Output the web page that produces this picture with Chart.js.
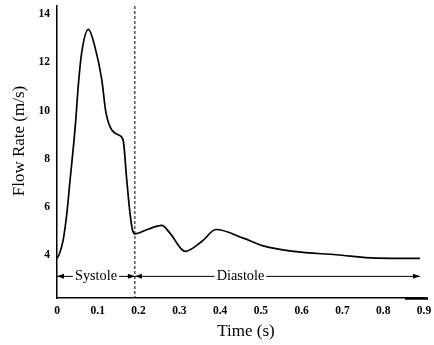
<!DOCTYPE html>
<html>
<head>
<meta charset="utf-8">
<script src="https://cdn.jsdelivr.net/npm/chart.js@4/dist/chart.umd.min.js"></script>
<style>
  html, body { margin: 0; padding: 0; background: #fff; }
  #wrap { width: 434px; height: 345px; position: relative; }
</style>
</head>
<body>
<div id="wrap"><canvas id="flow"></canvas></div>
<script>
// values
const timeS = [0, 0.005, 0.015, 0.024, 0.032, 0.042, 0.046, 0.052, 0.0605, 0.077,
  0.093, 0.11, 0.119, 0.13, 0.15, 0.162, 0.171, 0.179, 0.185, 0.191,
  0.22, 0.257, 0.277, 0.314, 0.355, 0.39, 0.457, 0.506, 0.58, 0.685,
  0.784, 0.89];
const flowRate = [3.85, 4.0, 4.6, 5.7, 7.1, 8.8, 9.6, 11.0, 12.4, 13.38,
  12.65, 11.27, 10.02, 9.33, 8.99, 8.78, 7.12, 5.73, 5.04, 4.87,
  5.04, 5.22, 4.9, 4.14, 4.55, 5.05, 4.69, 4.37, 4.14, 4.0,
  3.86, 3.85];

const xTicks = [0, 0.1, 0.2, 0.3, 0.4, 0.5, 0.6, 0.7, 0.8, 0.9];
const yTicks = [4, 6, 8, 10, 12, 14];

const systoleEnd = 0.191;   // dashed separator
const cycleEnd = 0.89;      // end of diastole arrow
const arrowLevel = 3.1;     // flow value where the phase arrows sit
const phaseLabels = ['Systole', 'Diastole'];
const phaseLabelAt = [0.0956, 0.45];

const serif = '"Liberation Serif", "DejaVu Serif", serif';

// dashed line, phase arrows, axis titles
const annotations = {
  id: 'annotations',
  afterDatasetsDraw(chart) {
    const { ctx, chartArea, scales } = chart;
    const x = scales.x, y = scales.y;
    const xs = x.getPixelForValue(systoleEnd);

    ctx.save();
    ctx.strokeStyle = '#000';
    ctx.lineWidth = 1;
    ctx.setLineDash([3, 2]);
    ctx.beginPath();
    ctx.moveTo(xs, chartArea.top);
    ctx.lineTo(xs, chartArea.bottom);
    ctx.stroke();
    ctx.setLineDash([]);

    const ay = y.getPixelForValue(arrowLevel);
    ctx.font = '14.3px ' + serif;
    ctx.textAlign = 'center';
    ctx.textBaseline = 'middle';
    ctx.fillStyle = '#000';

    const head = (px, dir) => {
      ctx.beginPath();
      ctx.moveTo(px, ay);
      ctx.lineTo(px - dir * 7, ay - 2.5);
      ctx.lineTo(px - dir * 7, ay + 2.5);
      ctx.closePath();
      ctx.fill();
    };
    const spans = [[0, systoleEnd], [systoleEnd, cycleEnd]];
    spans.forEach((s, i) => {
      const x0 = x.getPixelForValue(s[0]);
      const x1 = x.getPixelForValue(s[1]);
      const tx = x.getPixelForValue(phaseLabelAt[i]);
      const w = ctx.measureText(phaseLabels[i]).width;
      ctx.fillText(phaseLabels[i], tx, ay);
      ctx.lineWidth = 1;
      ctx.beginPath();
      ctx.moveTo(x0, ay);
      ctx.lineTo(tx - w / 2 - 2, ay);
      ctx.moveTo(tx + w / 2 + 2, ay);
      ctx.lineTo(x1, ay);
      ctx.stroke();
      head(x0, -1);
      head(x1, 1);
    });

    // thick bit at the right end of the time axis
    ctx.lineWidth = 2.5;
    ctx.beginPath();
    ctx.moveTo(405, chartArea.bottom + 0.5);
    ctx.lineTo(428, chartArea.bottom + 0.5);
    ctx.stroke();

    // axis titles
    ctx.font = '17px ' + serif;
    ctx.fillText('Time (s)', 246, 332);
    ctx.translate(20, 141);
    ctx.rotate(-Math.PI / 2);
    ctx.fillText('Flow Rate (m/s)', 0, 0);
    ctx.restore();
  }
};

new Chart(document.getElementById('flow'), {
  type: 'line',
  data: {
    datasets: [{
      data: timeS.map((t, i) => ({ x: t, y: flowRate[i] })),
      borderColor: '#000',
      borderWidth: 1.7,
      pointRadius: 0,
      fill: false,
      cubicInterpolationMode: 'monotone'
    }]
  },
  options: {
    responsive: true,
    maintainAspectRatio: false,
    animation: false,
    layout: { padding: { top: 6, right: 10, left: 0, bottom: 0 } },
    plugins: {
      legend: { display: false },
      tooltip: { enabled: false }
    },
    scales: {
      x: {
        type: 'linear',
        min: 0,
        max: 0.9,
        afterBuildTicks: s => { s.ticks = xTicks.map(v => ({ value: v })); },
        afterFit: s => { s.height = 47; s.paddingLeft = 0; s.paddingRight = 0; },
        grid: { display: false, drawTicks: false },
        border: { display: true, color: '#000', width: 1.5 },
        ticks: {
          padding: 6,
          color: '#000',
          maxRotation: 0,
          autoSkip: false,
          font: { family: serif, size: 11.5, weight: 'bold' },
          callback: v => (v === 0 ? '0' : String(v))
        }
      },
      y: {
        min: 2.2,
        max: 14.35,
        afterBuildTicks: s => { s.ticks = yTicks.map(v => ({ value: v })); },
        afterFit: s => { s.width = 57; s.paddingTop = 0; s.paddingBottom = 0; },
        grid: { display: false, drawTicks: false },
        border: { display: true, color: '#000', width: 1.5 },
        ticks: {
          padding: 7,
          color: '#000',
          autoSkip: false,
          font: { family: serif, size: 11.5, weight: 'bold' }
        }
      }
    }
  },
  plugins: [annotations]
});
</script>
</body>
</html>
